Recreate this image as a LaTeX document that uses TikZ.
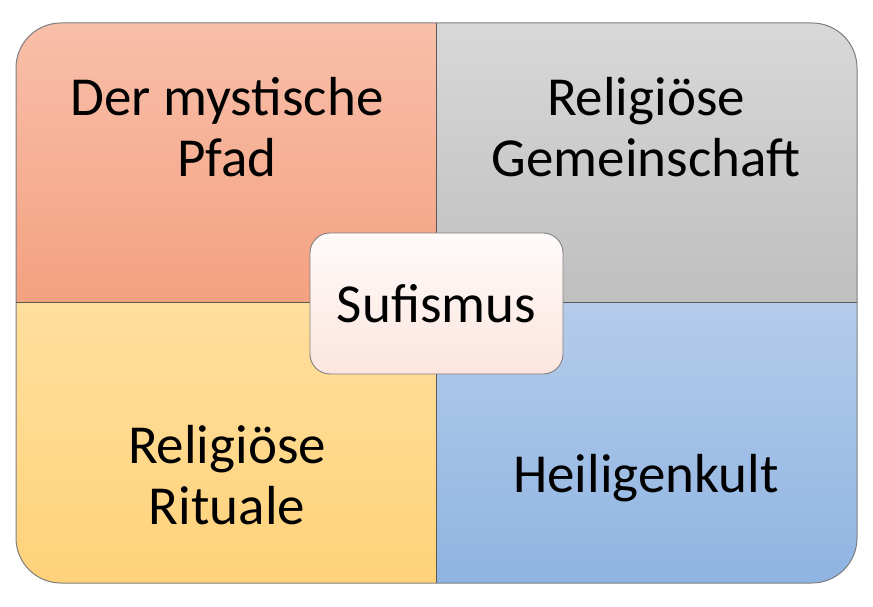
\documentclass[tikz,border=0pt]{standalone}
\usepackage{fontspec}
\setmainfont{Carlito}
\usepackage{tikz}
\usetikzlibrary{positioning}
\definecolor{pfadTop}{HTML}{F8BFA9}
\definecolor{pfadBot}{HTML}{F4A180}
\definecolor{gemTop}{HTML}{D8D8D8}
\definecolor{gemBot}{HTML}{BFBFBF}
\definecolor{ritTop}{HTML}{FFDF9D}
\definecolor{ritBot}{HTML}{FFD27A}
\definecolor{kultTop}{HTML}{B5CCEA}
\definecolor{kultBot}{HTML}{8FB4E2}
\definecolor{hubTop}{HTML}{FFFBFA}
\definecolor{hubBot}{HTML}{FCE5DF}
\definecolor{edge}{HTML}{7F7F7F}
\tikzset{
  quadlbl/.style={align=center, font=\fontsize{55}{61}\selectfont, text=black, inner sep=0pt},
  hub/.style={draw=edge, line width=0.9pt, rounded corners=20pt, top color=hubTop, bottom color=hubBot,
              minimum width=253pt, minimum height=141pt, inner sep=0pt,
              font=\fontsize{55}{61}\selectfont, align=center},
  divider/.style={draw=edge!70!black, line width=1pt}
}

\begin{document}
\begin{tikzpicture}[x=1pt,y=-1pt]
  \useasboundingbox (0,0) rectangle (873,607);
  % quadrant fills
  \begin{scope}
    \clip[rounded corners=45pt] (16,23) rectangle (857,583);
    \fill[top color=pfadTop, bottom color=pfadBot] (16,23) rectangle (436,302);
    \fill[top color=gemTop, bottom color=gemBot] (436,23) rectangle (857,302);
    \fill[top color=ritTop, bottom color=ritBot] (16,302) rectangle (436,583);
    \fill[top color=kultTop, bottom color=kultBot] (436,302) rectangle (857,583);
  \end{scope}
  \draw[draw=edge, line width=1pt, rounded corners=45pt] (16,23) rectangle (857,583);
  \coordinate (vtop) at (436,23);
  \coordinate (vbot) at (436,583);
  \coordinate (hleft) at (16,302);
  \coordinate (hright) at (857,302);
  \draw[divider] (vtop) -- (vbot);
  \draw[divider] (hleft) -- (hright);
  % labels
  \node[quadlbl] (pfad) at (227,127) {Der mystische\\Pfad};
  \node[quadlbl] (gemeinschaft) at (646,127) {Religiöse\\Gemeinschaft};
  \node[quadlbl] (rituale) at (227,475) {Religiöse\\Rituale};
  \node[quadlbl] (kult) at (646,478) {Heiligenkult};
  % centre
  \node[hub] (sufi) at (436.5,303.5) {Sufismus};
\end{tikzpicture}
\end{document}
